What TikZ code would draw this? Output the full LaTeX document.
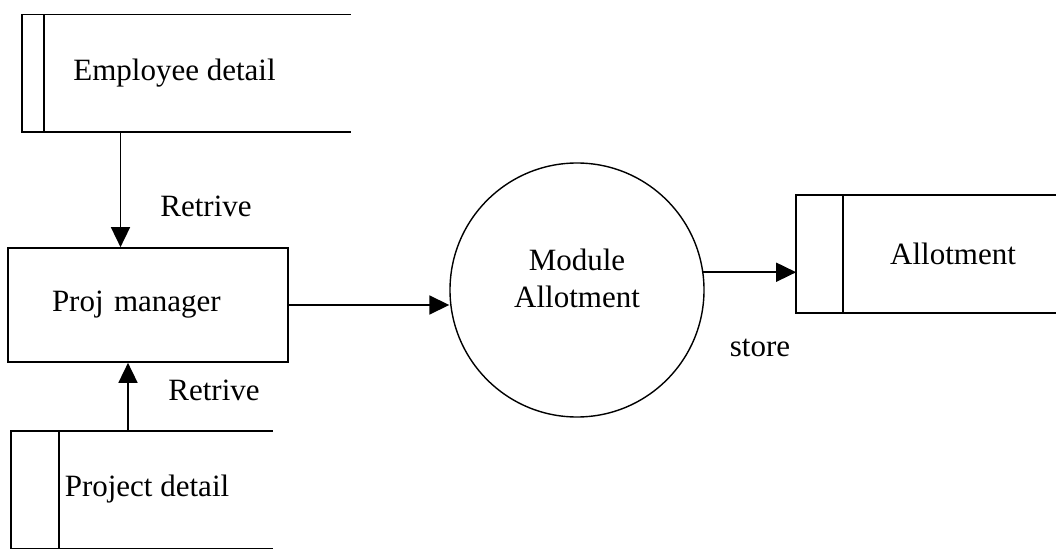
\documentclass[tikz,border=0pt]{standalone}
\usepackage{fontspec}
\setmainfont{Liberation Serif}
\usetikzlibrary{arrows.meta}
\usetikzlibrary{positioning}
\tikzstyle{store}=[rectangle,inner sep=0pt,minimum height=116pt]
\tikzstyle{proc}=[rectangle,draw,minimum width=280pt,minimum height=114pt,text width=192pt,align=left]
\tikzstyle{bubble}=[circle,draw,line width=1.4pt,minimum size=254pt,inner sep=0pt,align=center]
\tikzstyle{flow}=[draw,-{Triangle[length=20pt,width=19pt]}]
\tikzstyle{weight}=[inner sep=0pt]

\begin{document}
\begin{tikzpicture}[x=1pt,y=-1pt,font=\fontsize{31}{37}\selectfont,line width=1.7pt]
  \useasboundingbox (0,0) rectangle (1059,553);

  % data stores
  \node[store,minimum width=327pt] (emp) at (186.5,73.5) {};
  \node[store,minimum width=260pt] (proj) at (142,489.5) {};
  \node[store,minimum width=258pt] (allot) at (926,254) {};

  \foreach \name/\w in {emp/22, proj/48, allot/47} {
     \draw (\name.north east) -- (\name.north west) -- (\name.south west) -- (\name.south east);
     \draw ([xshift=\w pt]\name.north west) -- ([xshift=\w pt]\name.south west);
  }
  \foreach \name/\dx/\label in {emp/-12/Employee detail, proj/5/Project detail, allot/27/Allotment}
     \node (\name-txt) at ([xshift=\dx pt]\name.center) {\label};

  % process
  \node[proc] (pm) at (148,305) {Proj manager};
  \node[bubble] (ma) at (577,290) {Module\\Allotment\\[-14pt]};

  \draw[flow] ([xshift=-66pt]emp.south) -- ([xshift=-66pt]emp.south |- pm.north);
  \draw[flow] ([xshift=-14pt]proj.north) -- ([xshift=-14pt]proj.north |- pm.south);
  \draw[flow] (pm.east) -- (pm.east -| ma.west);
  \draw[flow] (ma.8) -- (ma.8 -| allot.west);

  \node[weight] (ret1) at (206,206) {Retrive};
  \node[weight] (ret2) at (214,390) {Retrive};
  \node[weight] (st) at (760,348) {store};

\end{tikzpicture}
\end{document}
